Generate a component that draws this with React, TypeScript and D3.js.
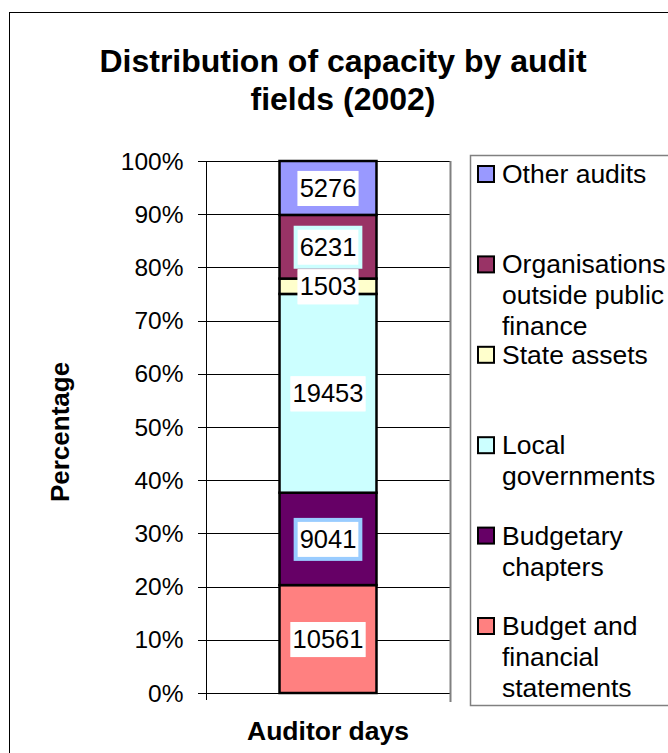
import React from "react";
import * as d3 from "d3";

const categories = ["Auditor days"];
const seriesNames = [
  "Budget and financial statements",
  "Budgetary chapters",
  "Local governments",
  "State assets",
  "Organisations outside public finance",
  "Other audits",
];
const seriesValues = [10561, 9041, 19453, 1503, 6231, 5276];
const seriesColors = ["#FF8080", "#660066", "#CCFFFF", "#FFFFCC", "#993366", "#9999FF"];
const legendLines = [
  ["Budget and", "financial", "statements"],
  ["Budgetary", "chapters"],
  ["Local", "governments"],
  ["State assets"],
  ["Organisations", "outside public", "finance"],
  ["Other audits"],
];
const labelBorders = [null, "#99CCFF", null, null, "#CCFFFF", null];
const yTicks = [0, 0.1, 0.2, 0.3, 0.4, 0.5, 0.6, 0.7, 0.8, 0.9, 1.0];
const titleLines = ["Distribution of capacity by audit", "fields (2002)"];
const yTitle = "Percentage";

export default function App() {
  const W = 668, H = 753;
  const plot = { left: 206, right: 450, top: 161, bottom: 693 };
  const y = d3.scaleLinear().domain([0, 1]).range([plot.bottom, plot.top]);
  const x = d3.scaleBand().domain(categories).range([plot.left, plot.right]).paddingInner(0).paddingOuter(0.758);
  const total = d3.sum(seriesValues);
  const stackData = [Object.fromEntries(seriesNames.map((n, i) => [n, seriesValues[i] / total]))];
  const stack = d3.stack<any>().keys(seriesNames)(stackData);
  const fmt = d3.format(".0%");
  const font = "Liberation Sans, Arial, sans-serif";
  const bx = x(categories[0])!;
  const bw = x.bandwidth();
  const labelFont = 25.5;

  return (
    <svg width={W} height={H} style={{ position: "absolute", left: 0, top: 0, background: "#fff" }} fontFamily={font}>
      <rect x={9.5} y={12.5} width={W} height={H} fill="#fff" stroke="#000" strokeWidth={1} />
      {titleLines.map((t, i) => (
        <text key={i} x={343} y={72 + i * 38} textAnchor="middle" fontSize={32} fontWeight="bold">{t}</text>
      ))}
      {/* gridlines */}
      {yTicks.map((t) => (
        <line key={t} x1={plot.left - 8} x2={plot.right} y1={Math.round(y(t)) + 0.5} y2={Math.round(y(t)) + 0.5} stroke="#000" strokeWidth={1} />
      ))}
      <line x1={plot.right + 0.5} x2={plot.right + 0.5} y1={plot.top} y2={plot.bottom + 9} stroke="#808080" strokeWidth={2} />
      <line x1={plot.left + 0.5} x2={plot.left + 0.5} y1={plot.top} y2={plot.bottom + 7} stroke="#000" strokeWidth={1} />
      {yTicks.map((t) => (
        <text key={"l" + t} x={183.5} y={y(t) + 8.5} textAnchor="end" fontSize={24.5}>{fmt(t)}</text>
      ))}
      {/* bars */}
      {stack.map((s, i) => (
        <rect key={i} x={bx} width={bw} y={y(s[0][1])} height={y(s[0][0]) - y(s[0][1])} fill={seriesColors[i]} stroke="#000" strokeWidth={2.5} />
      ))}
      {/* labels */}
      {stack.map((s, i) => {
        const cy = (y(s[0][0]) + y(s[0][1])) / 2;
        const txt = String(seriesValues[i]);
        const tw = txt.length * 0.556 * labelFont + 4;
        const b = labelBorders[i];
        return (
          <g key={"lab" + i}>
            <rect x={bx + bw / 2 - tw / 2 - (b ? 4 : 0)} y={cy - 17 - (b ? 4 : 0)} width={tw + (b ? 8 : 0)} height={35 + (b ? 8 : 0)} fill={b || "#fff"} />
            <rect x={bx + bw / 2 - tw / 2} y={cy - 17} width={tw} height={35} fill="#fff" />
            <text x={bx + bw / 2} y={cy + 9} textAnchor="middle" fontSize={labelFont}>{txt}</text>
          </g>
        );
      })}
      <text transform={`translate(69,432) rotate(-90)`} textAnchor="middle" fontSize={26} fontWeight="bold">{yTitle}</text>
      <text x={(plot.left + plot.right) / 2} y={740} textAnchor="middle" fontSize={26.5} fontWeight="bold">{categories[0]}</text>
      {/* legend */}
      <rect x={470.5} y={155.5} width={300} height={550} fill="#fff" stroke="#808080" strokeWidth={1.5} />
      {seriesNames.map((n, i) => {
        const idx = seriesNames.length - 1 - i;
        const base = 183 + i * 90.4;
        return (
          <g key={"lg" + idx}>
            <rect x={478} y={base - 17} width={16} height={16} fill={seriesColors[idx]} stroke="#000" strokeWidth={2} />
            {legendLines[idx].map((ln, j) => (
              <text key={j} x={502} y={base + j * 31} fontSize={26.5}>{ln}</text>
            ))}
          </g>
        );
      })}
    </svg>
  );
}
